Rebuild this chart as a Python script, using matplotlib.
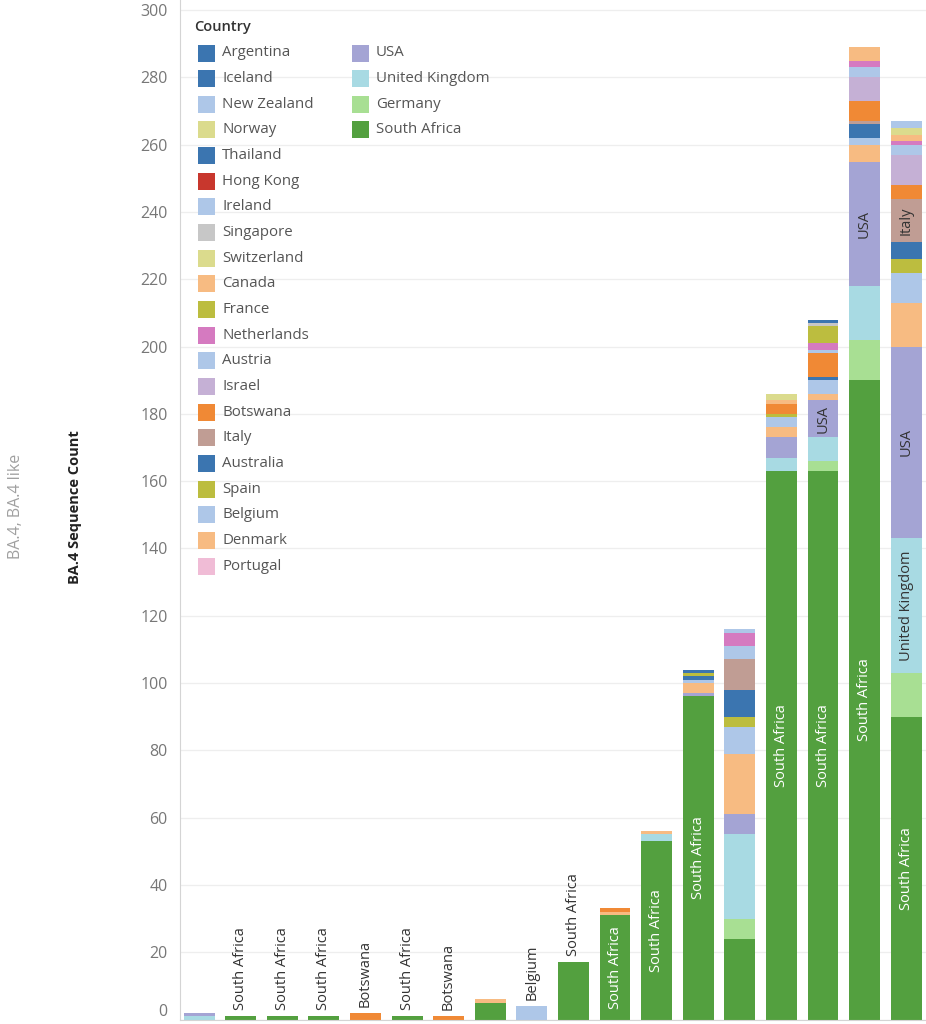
import matplotlib.pyplot as plt
from matplotlib.patches import Rectangle
import numpy as np

plt.rcParams['font.family'] = ['Open Sans', 'DejaVu Sans']

# legend order (top of the stack first)
countries = ['Argentina', 'Iceland', 'New Zealand', 'Norway', 'Thailand', 'Hong Kong',
             'Ireland', 'Singapore', 'Switzerland', 'Canada', 'France', 'Netherlands',
             'Austria', 'Israel', 'Botswana', 'Italy', 'Australia', 'Spain', 'Belgium',
             'Denmark', 'Portugal', 'USA', 'United Kingdom', 'Germany', 'South Africa']
colors = ['#3b75b0', '#3b75b0', '#aec7e8', '#dbdb8d', '#3b75b0', '#c8372d',
          '#aec7e8', '#c7c7c7', '#dbdb8d', '#f7bb82', '#bcbd3f', '#d57ac0',
          '#aec7e8', '#c5b0d5', '#f08935', '#c09d94', '#3b75b0', '#bcbd3f', '#aec7e8',
          '#f7bb82', '#f0bcd6', '#a4a4d4', '#a8dae3', '#a8df93', '#53a03f']

# sequence counts per country, one value per bar (18 bars)
south_africa = [0, 1, 1, 1, 0, 1, 0, 5, 0, 17, 31, 53, 96, 24, 163, 163, 190, 90]
germany      = [0, 0, 0, 0, 0, 0, 0, 0, 0, 0, 0, 0, 0, 6, 0, 3, 12, 13]
uk           = [1, 0, 0, 0, 0, 0, 0, 0, 0, 0, 0, 2, 0, 25, 4, 7, 16, 40]
usa          = [1, 0, 0, 0, 0, 0, 0, 0, 0, 0, 0, 0, 1, 6, 6, 11, 37, 57]
portugal     = [0] * 18
denmark      = [0, 0, 0, 0, 0, 0, 0, 1, 0, 0, 1, 1, 3, 18, 3, 2, 5, 13]
belgium      = [0, 0, 0, 0, 0, 0, 0, 0, 4, 0, 0, 0, 1, 8, 3, 4, 2, 9]
spain        = [0, 0, 0, 0, 0, 0, 0, 0, 0, 0, 0, 0, 0, 3, 1, 0, 0, 4]
australia    = [0, 0, 0, 0, 0, 0, 0, 0, 0, 0, 0, 0, 1, 8, 0, 1, 4, 5]
italy        = [0, 0, 0, 0, 0, 0, 0, 0, 0, 0, 0, 0, 0, 9, 0, 0, 1, 13]
botswana     = [0, 0, 0, 0, 2, 0, 1, 0, 0, 0, 1, 0, 0, 0, 3, 7, 6, 4]
israel       = [0, 0, 0, 0, 0, 0, 0, 0, 0, 0, 0, 0, 0, 0, 0, 0, 7, 9]
austria      = [0, 0, 0, 0, 0, 0, 0, 0, 0, 0, 0, 0, 0, 4, 0, 1, 3, 3]
netherlands  = [0, 0, 0, 0, 0, 0, 0, 0, 0, 0, 0, 0, 0, 4, 0, 2, 2, 1]
france       = [0, 0, 0, 0, 0, 0, 0, 0, 0, 0, 0, 0, 1, 0, 0, 5, 0, 0]
canada       = [0, 0, 0, 0, 0, 0, 0, 0, 0, 0, 0, 0, 0, 0, 1, 0, 4, 2]
switzerland  = [0, 0, 0, 0, 0, 0, 0, 0, 0, 0, 0, 0, 0, 0, 2, 0, 0, 2]
singapore    = [0, 0, 0, 0, 0, 0, 0, 0, 0, 0, 0, 0, 0, 0, 0, 1, 0, 0]
ireland      = [0, 0, 0, 0, 0, 0, 0, 0, 0, 0, 0, 0, 0, 1, 0, 0, 0, 0]
hong_kong    = [0] * 18
thailand     = [0, 0, 0, 0, 0, 0, 0, 0, 0, 0, 0, 0, 1, 0, 0, 0, 0, 0]
norway       = [0] * 18
new_zealand  = [0, 0, 0, 0, 0, 0, 0, 0, 0, 0, 0, 0, 0, 0, 0, 0, 0, 2]
iceland      = [0] * 18
argentina    = [0, 0, 0, 0, 0, 0, 0, 0, 0, 0, 0, 0, 0, 0, 0, 1, 0, 0]

series = [argentina, iceland, new_zealand, norway, thailand, hong_kong, ireland,
          singapore, switzerland, canada, france, netherlands, austria, israel,
          botswana, italy, australia, spain, belgium, denmark, portugal, usa, uk,
          germany, south_africa]

# segments that carry a label inside the bar (bar index, country)
inside_labels = [(10, 'South Africa'), (11, 'South Africa'), (12, 'South Africa'),
                 (14, 'South Africa'), (15, 'South Africa'), (15, 'USA'),
                 (16, 'South Africa'), (16, 'USA'), (17, 'South Africa'),
                 (17, 'United Kingdom'), (17, 'USA'), (17, 'Italy')]

W, H = 926, 1024
fig = plt.figure(figsize=(W / 100, H / 100), dpi=100)
ax = fig.add_axes([180 / W, 4.5 / H, 746 / W, 1 - 4.5 / H])

x = np.arange(18)
bottom = np.zeros(18)
seg_pos = {}
for name, col, vals in reversed(list(zip(countries, colors, series))):
    vals = np.array(vals, dtype=float)
    ax.bar(x, vals, bottom=bottom, width=0.745, color=col, linewidth=0, zorder=2)
    for i in range(18):
        if vals[i] > 0:
            seg_pos[(i, name)] = (bottom[i], vals[i])
    bottom += vals

for (i, name), (b, v) in seg_pos.items():
    if (i, name) in inside_labels:
        tc = 'white' if name == 'South Africa' else '#333333'
        ax.text(i, b + v / 2, name, rotation=90, ha='center', va='center',
                fontsize=10.5, color=tc, zorder=3)

# single-country bars get the label on top
for i in range(18):
    segs = [(n, bv) for (j, n), bv in seg_pos.items() if j == i]
    if len(segs) == 1 and (i, segs[0][0]) not in inside_labels:
        ax.text(i, bottom[i] + 1.8, segs[0][0], rotation=90, ha='center', va='bottom',
                fontsize=10.5, color='#333333', zorder=3)

ax.set_xlim(-0.457, 17.476)
ax.set_ylim(0, 303)
ax.set_yticks(range(0, 301, 20))
ax.set_xticks([])
ax.grid(axis='y', color='#eeeeee', linewidth=0.9, zorder=0)
ax.tick_params(axis='y', length=0, pad=9, labelsize=11.5, labelcolor='#777777')
for s in ['top', 'right']:
    ax.spines[s].set_visible(False)
ax.spines['left'].set_color('#d4d4d4')
ax.spines['bottom'].set_color('#d4d4d4')
ax.yaxis.get_majorticklabels()[0].set_va('bottom')

fig.text(75 / W, 1 - 507 / H, 'BA.4 Sequence Count', rotation=90, ha='center',
         va='center', fontsize=10.5, fontweight='bold', color='#222222')
fig.text(16 / W, 1 - 506 / H, 'BA.4, BA.4 like', rotation=90, ha='center',
         va='center', fontsize=11.5, color='#a0a0a0')

# legend
fig.text(194 / W, 1 - 27 / H, 'Country', ha='left', va='center', fontsize=10.5,
         fontweight='semibold', color='#333333')
for k, (name, col) in enumerate(zip(countries, colors)):
    c, r = (0, k) if k < 21 else (1, k - 21)
    sx = 198 if c == 0 else 352
    cy = 53 + 25.65 * r
    fig.add_artist(Rectangle((sx / W, 1 - (cy + 8.5) / H), 17 / W, 17 / H,
                             transform=fig.transFigure, color=col, linewidth=0))
    fig.text((sx + 24) / W, 1 - cy / H, name, ha='left', va='center',
             fontsize=10.8, color='#555555')

fig.savefig('out.png', dpi=100)
